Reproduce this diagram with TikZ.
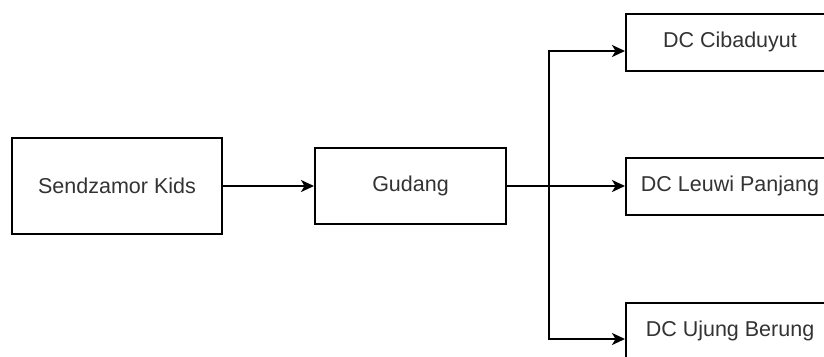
\documentclass[tikz,border=0pt]{standalone}
\usepackage{fontspec}
\setmainfont{Liberation Sans}
\usetikzlibrary{arrows.meta, positioning}

\begin{document}
\begin{tikzpicture}[
    x=1pt, y=-1pt,
    node distance=85pt and 91pt,
    box/.style={draw=black, line width=2pt, fill=white, inner sep=0pt,
                font=\fontsize{21.5}{25}\selectfont, text=black!80, align=center},
    srcbox/.style={box, minimum width=210pt, minimum height=96pt},
    whbox/.style={box, minimum width=191pt, minimum height=76pt},
    dcbox/.style={box, minimum width=208pt, minimum height=57pt},
    arr/.style={-{Stealth[length=13pt, width=12pt, inset=3.5pt]}, line width=2pt}
  ]
  \useasboundingbox (0,0) rectangle (824,356);

  % Nodes
  \node[srcbox] (kids) at (117,186) {Sendzamor Kids};
  \node[whbox, right=91pt of kids]      (gudang)    {Gudang};
  \node[dcbox, right=118pt of gudang]   (leuwi)     {DC Leuwi Panjang};
  \node[dcbox, above=85pt of leuwi]     (cibaduyut) {DC Cibaduyut};
  \node[dcbox, below=86pt of leuwi]     (ujung)     {DC Ujung Berung};
  \coordinate[right=42pt of gudang.east] (split);

  % Arrows
  \draw[arr] (kids) -- (gudang);
  \draw[arr] (gudang.east) -- (split) |- ([yshift=-9pt]cibaduyut.west);
  \draw[arr] (gudang.east) -- (split) -- (leuwi.west);
  \draw[arr] (gudang.east) -- (split) |- ([yshift=-8pt]ujung.west);
\end{tikzpicture}
\end{document}
